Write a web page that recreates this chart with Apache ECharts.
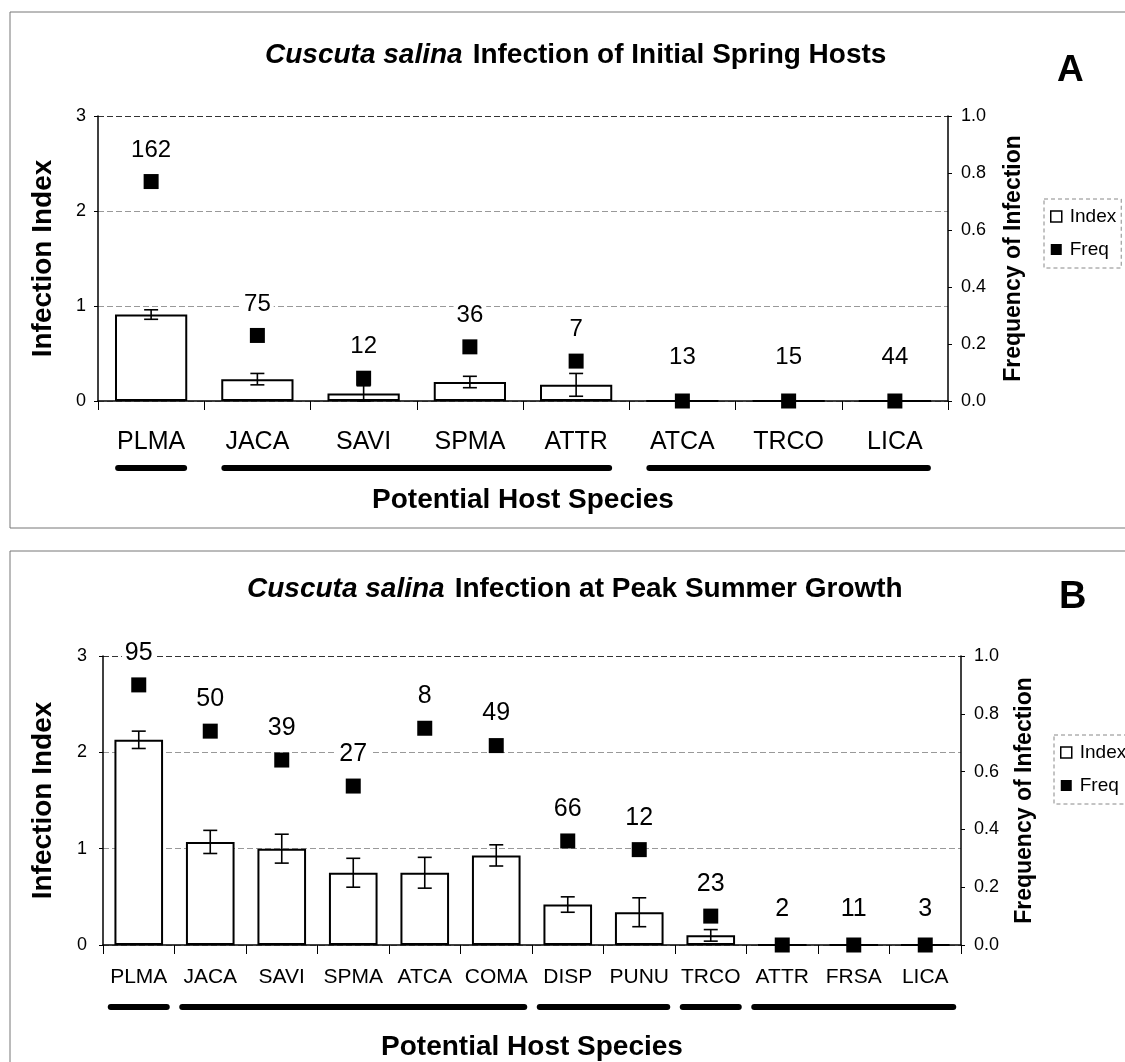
<!DOCTYPE html>
<html>
<head>
<meta charset="utf-8">
<script src="https://cdn.jsdelivr.net/npm/echarts@6/dist/echarts.min.js"></script>
<style>
  html, body { margin: 0; padding: 0; background: #fff; }
  #chart { width: 1125px; height: 1062px; }
</style>
</head>
<body>
<div id="chart"></div>
<script>
// Panel A: initial spring hosts
const categoriesA = ['PLMA', 'JACA', 'SAVI', 'SPMA', 'ATTR', 'ATCA', 'TRCO', 'LICA'];
const indexA = [0.91, 0.23, 0.08, 0.20, 0.17, 0, 0, 0];
const errA   = [0.05, 0.06, 0.08, 0.06, 0.12, 0, 0, 0];
const freqA  = [0.77, 0.23, 0.08, 0.19, 0.14, 0, 0, 0];
const nA     = [162, 75, 12, 36, 7, 13, 15, 44];
const groupsA = [['PLMA', 'PLMA'], ['JACA', 'ATTR'], ['ATCA', 'LICA']];

// Panel B: peak summer growth
const categoriesB = ['PLMA', 'JACA', 'SAVI', 'SPMA', 'ATCA', 'COMA', 'DISP', 'PUNU', 'TRCO', 'ATTR', 'FRSA', 'LICA'];
const indexB = [2.13, 1.07, 1.00, 0.75, 0.75, 0.93, 0.42, 0.34, 0.10, 0, 0, 0];
const errB   = [0.09, 0.12, 0.15, 0.15, 0.16, 0.11, 0.08, 0.15, 0.06, 0, 0, 0];
const freqB  = [0.90, 0.74, 0.64, 0.55, 0.75, 0.69, 0.36, 0.33, 0.10, 0, 0, 0];
const nB     = [95, 50, 39, 27, 8, 49, 66, 12, 23, 2, 11, 3];
const groupsB = [['PLMA', 'PLMA'], ['JACA', 'COMA'], ['DISP', 'PUNU'], ['TRCO', 'TRCO'], ['ATTR', 'LICA']];

const indexTicks = [0, 1, 2, 3];
const freqTicks = [0, 0.2, 0.4, 0.6, 0.8, 1.0];

const FONT = "'Liberation Sans', Arial, sans-serif";

const chart = echarts.init(document.getElementById('chart'), null, { renderer: 'canvas' });

function errorData(vals, errs) {
  return vals.map((v, i) => [i, v - errs[i], v + errs[i], errs[i]]);
}

function renderError(params, api) {
  if (api.value(3) <= 0) return null;
  const lo = api.coord([api.value(0), api.value(1)]);
  const hi = api.coord([api.value(0), api.value(2)]);
  const cap = 7;
  const style = { stroke: '#000', lineWidth: 1.6 };
  return {
    type: 'group',
    children: [
      { type: 'line', shape: { x1: lo[0], y1: lo[1], x2: hi[0], y2: hi[1] }, style },
      { type: 'line', shape: { x1: hi[0] - cap, y1: hi[1], x2: hi[0] + cap, y2: hi[1] }, style },
      { type: 'line', shape: { x1: lo[0] - cap, y1: lo[1], x2: lo[0] + cap, y2: lo[1] }, style }
    ]
  };
}

function freqData(vals, zeroGap, gap) {
  return vals.map(v => ({ value: v, label: { distance: v === 0 ? zeroGap : gap } }));
}

function panelAxes(idx, cats, p) {
  const x = {
    type: 'category', gridIndex: idx, data: cats,
    boundaryGap: true,
    axisLine: { lineStyle: { color: '#000', width: 1.5 } },
    axisTick: { show: true, alignWithLabel: false, length: 9, lineStyle: { color: '#000', width: 1 } },
    axisLabel: { color: '#000', fontSize: p.catSize, fontFamily: FONT, margin: p.catMargin, interval: 0 },
    name: 'Potential Host Species', nameLocation: 'middle', nameGap: p.gapX,
    nameTextStyle: { color: '#000', fontSize: 28, fontWeight: 'bold', fontFamily: FONT }
  };
  const yl = {
    type: 'value', gridIndex: idx, min: indexTicks[0], max: indexTicks[indexTicks.length - 1], interval: 1,
    axisLine: { show: true, lineStyle: { color: '#000', width: 1.5 } },
    axisTick: { show: true, length: 4, lineStyle: { color: '#000' } },
    axisLabel: { color: '#000', fontSize: 18, fontFamily: FONT, margin: p.leftMargin },
    splitLine: { show: true, lineStyle: { color: ['#999', '#999', '#999', '#333'], width: 1, type: [6, 3] } },
    name: 'Infection Index', nameLocation: 'middle', nameGap: p.gapL,
    nameTextStyle: { color: '#000', fontSize: 28, fontWeight: 'bold', fontFamily: FONT }
  };
  const yr = {
    type: 'value', gridIndex: idx, position: 'right', min: freqTicks[0], max: freqTicks[freqTicks.length - 1], interval: 0.2,
    axisLine: { show: true, lineStyle: { color: '#000', width: 1.5 } },
    axisTick: { show: true, length: 4, lineStyle: { color: '#000' } },
    axisLabel: { color: '#000', fontSize: 18, fontFamily: FONT, margin: 13, formatter: v => v.toFixed(1) },
    splitLine: { show: false },
    name: 'Frequency of Infection', nameLocation: 'middle', nameGap: p.gapR,
    nameTextStyle: { color: '#000', fontSize: 23, fontWeight: 'bold', fontFamily: FONT }
  };
  return { x, yl, yr };
}

function panelSeries(idx, vals, errs, freq, counts, labelSize, zeroGap) {
  return [
    {
      name: 'Index', type: 'bar', xAxisIndex: idx, yAxisIndex: idx * 2,
      data: vals, barWidth: '68%',
      itemStyle: { color: '#fff', borderColor: '#000', borderWidth: 2 },
      z: 2
    },
    {
      name: 'Index err', type: 'custom', xAxisIndex: idx, yAxisIndex: idx * 2,
      data: errorData(vals, errs), renderItem: renderError, z: 3,
      encode: { x: 0, y: [1, 2] }
    },
    {
      name: 'Freq', type: 'scatter', xAxisIndex: idx, yAxisIndex: idx * 2 + 1,
      data: freqData(freq, zeroGap, 12), symbol: 'rect', symbolSize: 15,
      itemStyle: { color: '#000', opacity: 1 },
      label: {
        show: true, position: 'top', color: '#000', fontSize: labelSize, fontFamily: FONT,
        backgroundColor: '#fff', padding: [0, 3],
        formatter: p => String(counts[p.dataIndex])
      },
      z: 4
    }
  ];
}

const axA = panelAxes(0, categoriesA, { catSize: 25, catMargin: 29, gapX: 85, gapL: 41, gapR: 54, leftMargin: 12 });
const axB = panelAxes(1, categoriesB, { catSize: 21, catMargin: 22, gapX: 88, gapL: 46, gapR: 52, leftMargin: 16 });

const titleRich = size => ({
  i: { fontStyle: 'italic', fontWeight: 'bold', fontSize: size, fontFamily: FONT, color: '#000' },
  b: { fontWeight: 'bold', fontSize: size, fontFamily: FONT, color: '#000' }
});

const legendBase = {
  orient: 'vertical', icon: 'rect', itemWidth: 11, itemHeight: 11, itemGap: 14,
  data: ['Index', 'Freq'], selectedMode: false,
  borderColor: '#888', borderWidth: 1, borderType: [4, 3],
  padding: [8, 5, 9, 6],
  textStyle: { color: '#000', fontSize: 19, fontFamily: FONT, padding: [0, 0, 0, 3] },
  itemStyle: { borderWidth: 1.5 }
};

const option = {
  backgroundColor: '#fff',
  animation: false,
  title: [
    { text: '{i|Cuscuta salina}  {b|Infection of Initial Spring Hosts}', left: 260, top: 36, textStyle: { rich: titleRich(28) } },
    { text: '{i|Cuscuta salina}  {b|Infection at Peak Summer Growth}', left: 242, top: 570, textStyle: { rich: titleRich(28) } },
    { text: 'A', left: 1052, top: 47, textStyle: { fontSize: 37, fontWeight: 'bold', fontFamily: FONT, color: '#000' } },
    { text: 'B', left: 1054, top: 574, textStyle: { fontSize: 38, fontWeight: 'bold', fontFamily: FONT, color: '#000' } }
  ],
  legend: [
    Object.assign({}, legendBase, { left: 1044, top: 199 }),
    Object.assign({}, legendBase, { left: 1054, top: 735 })
  ],
  grid: [
    { left: 98, right: 177, top: 116, height: 285 },
    { left: 103, right: 164, top: 656, height: 291 }
  ],
  xAxis: [axA.x, axB.x],
  yAxis: [axA.yl, axA.yr, axB.yl, axB.yr],
  series: [
    ...panelSeries(0, indexA, errA, freqA, nA, 24, 24),
    ...panelSeries(1, indexB, errB, freqB, nB, 25, 16)
  ]
};

chart.setOption(option);

// Panel frames and the thick bars that group host species under the axis labels
function groupLines(axisIdx, groups, y, halfExt) {
  return groups.map(g => {
    const x1 = chart.convertToPixel({ xAxisIndex: axisIdx }, g[0]) - halfExt;
    const x2 = chart.convertToPixel({ xAxisIndex: axisIdx }, g[1]) + halfExt;
    return {
      type: 'line', shape: { x1, y1: y, x2, y2: y },
      style: { stroke: '#000', lineWidth: 6, lineCap: 'round' }, silent: true
    };
  });
}

chart.setOption({
  graphic: [
    { type: 'rect', shape: { x: 10, y: 12, width: 1200, height: 516 }, style: { fill: 'none', stroke: '#777', lineWidth: 1 }, silent: true, z: -1 },
    { type: 'rect', shape: { x: 10, y: 551, width: 1200, height: 600 }, style: { fill: 'none', stroke: '#777', lineWidth: 1 }, silent: true, z: -1 },
    ...groupLines(0, groupsA, 468, 33),
    ...groupLines(1, groupsB, 1007, 28)
  ]
});
</script>
</body>
</html>
